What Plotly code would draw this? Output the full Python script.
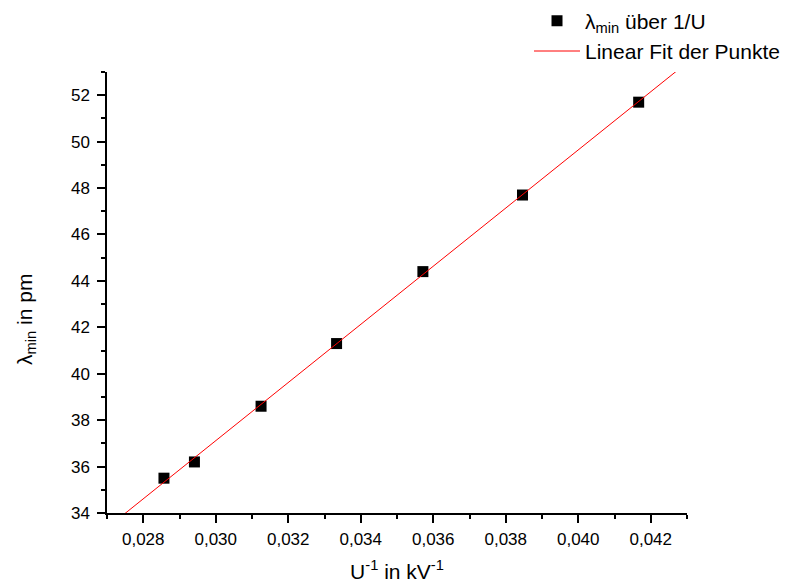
import numpy as np
import plotly.graph_objects as go

# data
inv_U = [1/35, 1/34, 1/32, 1/30, 1/28, 1/26, 1/24]   # kV^-1
lambda_min = [35.5, 36.2, 38.6, 41.3, 44.4, 47.7, 51.7]  # pm

x_range = [0.0270, 0.0430]
y_range = [34, 53]

slope, intercept = np.polyfit(inv_U, lambda_min, 1)
fit_x = np.array(x_range)
fit_y = slope * fit_x + intercept

FONT = "Liberation Sans, Arial, sans-serif"

fig = go.Figure()
fig.add_trace(go.Scatter(
    x=inv_U, y=lambda_min, mode="markers",
    marker=dict(symbol="square", size=11, color="black"),
    name="λ<sub>min</sub> über 1/U",
))
fig.add_trace(go.Scatter(
    x=fit_x, y=fit_y, mode="lines",
    line=dict(color="#ff0000", width=1),
    name="Linear Fit der Punkte",
))

axis_common = dict(
    showline=True, linecolor="black", linewidth=1.5,
    ticks="outside", ticklen=8, tickwidth=1.5, tickcolor="black",
    showgrid=False, zeroline=False, mirror=False,
    tickfont=dict(family=FONT, size=17, color="black"),
)

fig.update_layout(
    width=792, height=583,
    margin=dict(l=107, r=105, t=72, b=70, autoexpand=False),
    plot_bgcolor="white", paper_bgcolor="white",
    separators=",.",
    font=dict(family=FONT, color="black"),
    xaxis=dict(
        range=x_range, tick0=0.028, dtick=0.002, tickformat=".3f",
        ticklabelstandoff=2,
        minor=dict(ticks="outside", ticklen=4, tickwidth=1.5, tickcolor="black", dtick=0.001, tick0=0.027),
        title=dict(text="U<sup>-1</sup> in kV<sup>-1</sup>", font=dict(family=FONT, size=21), standoff=20),
        **axis_common,
    ),
    yaxis=dict(
        range=y_range, tick0=34, dtick=2,
        ticklabelstandoff=4,
        minor=dict(ticks="outside", ticklen=4, tickwidth=1.5, tickcolor="black", dtick=1),
        **axis_common,
    ),
    legend=dict(
        x=0.7276, y=1.162, xanchor="left", yanchor="top",
        font=dict(family=FONT, size=21, color="black"),
        bgcolor="rgba(0,0,0,0)", tracegroupgap=0, itemwidth=46,
    ),
    showlegend=True,
    annotations=[dict(
        text="λ<sub>min</sub> in pm", textangle=-90,
        xref="paper", yref="paper", x=-0.1397, y=0.44,
        xanchor="center", yanchor="middle", showarrow=False,
        font=dict(family=FONT, size=21, color="black"),
    )],
)

fig.write_html("out.html")
